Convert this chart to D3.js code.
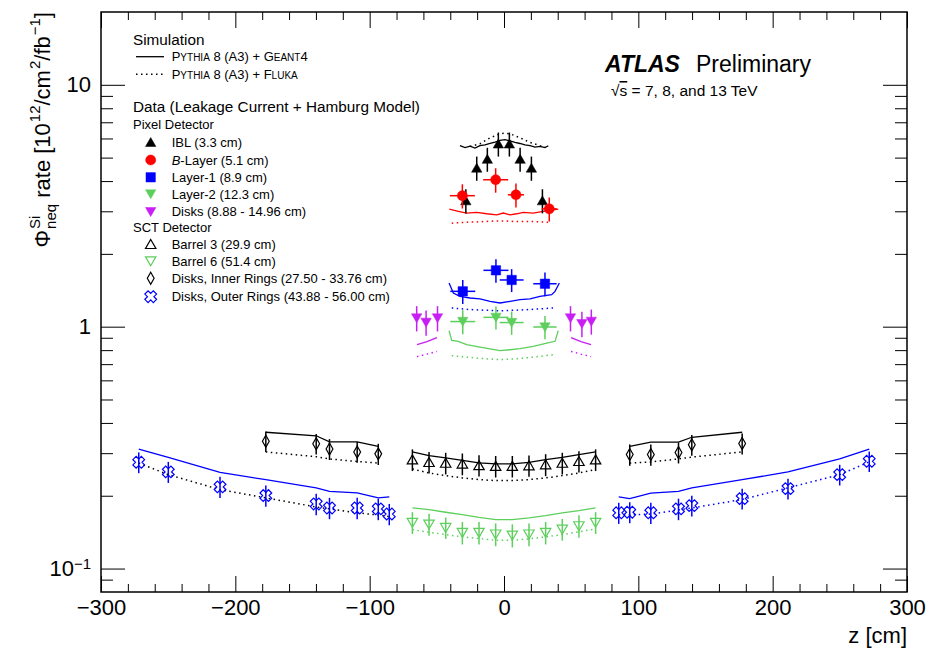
<!DOCTYPE html>
<html>
<head>
<meta charset="utf-8">
<title>Fluence rate vs z</title>
<script src="https://d3js.org/d3.v7.min.js"></script>
<style>
  body { margin: 0; background: #fff; }
  svg { font-family: "Liberation Sans", Arial, Helvetica, sans-serif; }
</style>
</head>
<body>
<div id="chart"></div>
<script>
// ---------- data: z [cm], rate [1e12 / cm2 / fb-1] ----------
// Pixel IBL
var iblZ   = [-28.4, -20.3, -12.4, -4.2, 4.0, 12.0, 20.4, 28.6];
var iblVal = [3.32, 4.53, 4.93, 5.70, 5.70, 4.93, 4.53, 3.32];
var iblErr = [0.38, 0.52, 0.56, 0.65, 0.65, 0.56, 0.52, 0.38];
var iblG4Z = [-32.8, -29.0, -25.3, -21.6, -17.9, -14.1, -10.4, -6.7, -3.0, 0.7, 4.5, 8.2, 11.9, 15.6, 19.4, 23.1, 26.8, 30.5, 33.0];
var iblG4  = [5.60, 5.50, 5.58, 5.48, 5.60, 5.65, 5.72, 5.80, 5.89, 5.93, 5.86, 5.78, 5.72, 5.64, 5.60, 5.53, 5.56, 5.50, 5.60];
var iblFlZ = [-25.3, -17.9, -10.4, -3.0, 0.7, 4.5, 11.9, 19.4, 26.8, 30.5];
var iblFl  = [5.56, 5.70, 6.04, 6.27, 6.31, 6.27, 6.04, 5.78, 5.60, 5.55];

// Pixel B-Layer
var blZ    = [-31.0, -6.2, 8.9, 33.7];
var blZErr = [9.3, 9.3, 6.0, 5.6];
var blVal  = [3.48, 4.05, 3.51, 3.07];
var blErr  = [0.40, 0.47, 0.40, 0.35];
var blG4Z  = [-40.7, -34.0, -27.8, -20.3, -12.9, -5.4, -0.5, 4.5, 9.5, 14.4, 21.8, 29.3, 36.7, 40.4];
var blG4   = [3.06, 3.00, 2.95, 2.97, 2.93, 2.90, 2.95, 2.90, 2.93, 2.97, 2.95, 3.00, 3.04, 3.06];
var blFlZ  = [-38.9, -27.8, -15.4, -3.0, 9.5, 21.8, 33.0];
var blFl   = [2.68, 2.70, 2.72, 2.74, 2.72, 2.72, 2.70];

// Pixel Layer-1
var l1Z    = [-30.7, -6.0, 5.7, 30.5];
var l1ZErr = [9.3, 9.3, 8.9, 8.7];
var l1Val  = [1.40, 1.71, 1.56, 1.505];
var l1Err  = [0.16, 0.19, 0.17, 0.17];
var l1G4Z  = [-40.9, -37.7, -32.8, -25.3, -17.9, -10.4, -3.0, 4.5, 11.9, 19.4, 26.8, 35.5, 38.0, 41.2];
var l1G4   = [1.516, 1.378, 1.334, 1.314, 1.302, 1.272, 1.253, 1.272, 1.293, 1.302, 1.334, 1.356, 1.399, 1.516];
var l1FlZ  = [-38.9, -27.8, -15.4, -3.0, 9.5, 21.8, 36.7];
var l1Fl   = [1.195, 1.18, 1.17, 1.164, 1.17, 1.18, 1.195];

// Pixel Layer-2
var l2Z    = [-30.7, -6.0, 5.7, 30.5];
var l2ZErr = [9.3, 9.3, 8.9, 8.7];
var l2Val  = [1.05, 1.093, 1.04, 0.997];
var l2Err  = [0.12, 0.12, 0.115, 0.11];
var l2G4Z  = [-40.9, -38.9, -34.0, -27.8, -17.9, -10.4, -3.0, 4.5, 11.9, 21.8, 31.8, 38.0, 40.4];
var l2G4   = [0.963, 0.878, 0.870, 0.843, 0.824, 0.809, 0.796, 0.803, 0.811, 0.829, 0.856, 0.870, 0.963];
var l2FlZ  = [-38.9, -27.8, -15.4, -3.0, 9.5, 21.8, 36.7];
var l2Fl   = [0.759, 0.748, 0.738, 0.731, 0.737, 0.748, 0.766];

// Pixel disks
var pdZ    = [-65.0, -58.0, -49.5, 49.5, 58.0, 65.0];
var pdVal  = [1.086, 1.042, 1.086, 1.086, 1.029, 1.052];
var pdErr  = [0.13, 0.125, 0.13, 0.13, 0.125, 0.125];
var pdSimZ = [-64.8, -57.3, -49.9, 49.9, 57.3, 64.8];
var pdG4   = [0.843, 0.867, 0.901, 0.901, 0.867, 0.843];
var pdFl   = [0.752, 0.770, 0.790, 0.790, 0.770, 0.752];

// SCT barrels
var sctBZ   = [-68.2, -55.8, -43.4, -31.0, -18.6, -6.2, 6.2, 18.6, 31.0, 43.4, 55.8, 68.2];
var b3Val   = [0.282, 0.275, 0.273, 0.271, 0.267, 0.265, 0.265, 0.2665, 0.269, 0.273, 0.2776, 0.282];
var b3Err   = [0.029, 0.028, 0.028, 0.028, 0.027, 0.027, 0.027, 0.027, 0.028, 0.028, 0.028, 0.029];
var b3G4    = [0.3035, 0.293, 0.2867, 0.2803, 0.2734, 0.2708, 0.2708, 0.275, 0.282, 0.2884, 0.296, 0.3035];
var b3Fl    = [0.258, 0.2485, 0.2423, 0.237, 0.2332, 0.231, 0.231, 0.2332, 0.237, 0.2423, 0.2485, 0.2565];
var b6Val   = [0.155, 0.1525, 0.1476, 0.1408, 0.1408, 0.1387, 0.1373, 0.1387, 0.1408, 0.1454, 0.150, 0.155];
var b6Err   = [0.016, 0.016, 0.015, 0.015, 0.015, 0.015, 0.015, 0.015, 0.015, 0.015, 0.016, 0.016];
var b6G4    = [0.1782, 0.1753, 0.1709, 0.1671, 0.1629, 0.1594, 0.1594, 0.162, 0.1656, 0.170, 0.1737, 0.1782];
var b6Fl    = [0.1449, 0.1413, 0.1382, 0.1352, 0.133, 0.1309, 0.1309, 0.1327, 0.1352, 0.1382, 0.1419, 0.1459];

// SCT disks, inner rings
var inZ     = [-177.3, -139.8, -129.9, -109.3, -93.6, 93.6, 109.3, 129.9, 139.8, 177.3];
var inVal   = [0.336, 0.328, 0.312, 0.3035, 0.298, 0.296, 0.296, 0.302, 0.325, 0.329];
var inErr   = [0.033, 0.032, 0.031, 0.030, 0.030, 0.030, 0.030, 0.030, 0.032, 0.033];
var inG4    = [0.366, 0.354, 0.334, 0.334, 0.320, 0.320, 0.333, 0.333, 0.349, 0.366];
var inFl    = [0.3035, 0.290, 0.284, 0.277, 0.273, 0.273, 0.276, 0.284, 0.289, 0.3035];

// SCT disks, outer rings
var outZ    = [-271.9, -249.9, -211.4, -177.3, -139.8, -129.9, -109.3, -93.6, -85.4,
               85.4, 93.6, 109.3, 129.9, 139.8, 177.3, 211.4, 249.9, 271.9];
var outVal  = [0.275, 0.251, 0.2176, 0.2003, 0.185, 0.178, 0.178, 0.1765, 0.168,
               0.170, 0.171, 0.170, 0.1765, 0.182, 0.1946, 0.214, 0.2445, 0.2776];
var outErr  = [0.027, 0.025, 0.022, 0.020, 0.019, 0.018, 0.018, 0.018, 0.017,
               0.017, 0.017, 0.017, 0.018, 0.018, 0.019, 0.021, 0.024, 0.027];
var outG4   = [0.312, 0.288, 0.250, 0.233, 0.2156, 0.2087, 0.2056, 0.196, 0.198,
               0.198, 0.1946, 0.205, 0.2087, 0.2156, 0.233, 0.251, 0.284, 0.312];
var outFl   = [0.273, 0.2445, 0.212, 0.196, 0.1797, 0.1765, 0.170, 0.1665, 0.164,
               0.167, 0.167, 0.168, 0.1745, 0.178, 0.193, 0.2156, 0.2445, 0.276];

// axis ticks
var xMajor = [-300, -200, -100, 0, 100, 200, 300];
var xMinor = [-280, -260, -240, -220, -180, -160, -140, -120, -80, -60, -40, -20,
              20, 40, 60, 80, 120, 140, 160, 180, 220, 240, 260, 280];
var yMajor = [0.1, 1, 10];
var yMinor = [0.09, 0.2, 0.3, 0.4, 0.5, 0.6, 0.7, 0.8, 0.9, 2, 3, 4, 5, 6, 7, 8, 9];

// colours
var cRed = "#ff0000", cBlue = "#0000ff", cGreen = "#5dcf5d", cMag = "#c81ef5", cBlack = "#000000";

// ---------- layout ----------
var width = 933, height = 648;
var fL = 101, fR = 907, fT = 12, fB = 592;

var svg = d3.select("#chart").append("svg")
    .attr("width", width)
    .attr("height", height);
svg.append("rect").attr("width", width).attr("height", height).attr("fill", "#fff");

var x = d3.scaleLinear().domain([-300, 300]).range([fL, fR]);
var y = d3.scaleLog().domain([0.08, 20]).range([fB, fT]);

// ---------- markers ----------
function crossX() {
    var a = 2.3, L = 6;
    var pts = [[a,-L],[a,-a],[L,-a],[L,a],[a,a],[a,L],[-a,L],[-a,a],[-L,a],[-L,-a],[-a,-a],[-a,-L]];
    var c = Math.SQRT1_2;
    return "M" + pts.map(function (p) {
        return [(p[0] - p[1]) * c, (p[0] + p[1]) * c].map(function (v) { return v.toFixed(2); }).join(",");
    }).join("L") + "Z";
}
var shapes = {
    triUp: "M0,-4.8L5.2,4.2L-5.2,4.2Z",
    triDown: "M0,4.8L5.2,-4.2L-5.2,-4.2Z",
    circle: d3.symbol(d3.symbolCircle, 80)(),
    square: "M-4.7,-4.7h9.4v9.4h-9.4Z",
    diamond: "M0,-6L3.4,0L0,6L-3.4,0Z",
    crossX: crossX()
};

var plot = svg.append("g");

// two-sided simulation (negative z and positive z drawn apart)
function drawSim(zs, vals, color, dotted, dotColor) {
    var pts = zs.map(function (z, i) { return { z: z, v: vals[i] }; });
    var segs = [pts.filter(function (d) { return d.z < 0; }), pts.filter(function (d) { return d.z >= 0; })];
    var line = d3.line().x(function (d) { return x(d.z); }).y(function (d) { return y(d.v); });
    segs.forEach(function (s, k) {
        if (s.length < 2) return;
        var p = plot.append("path")
            .attr("d", line(s))
            .attr("fill", "none")
            .attr("stroke", dotted && dotColor && k === 0 ? dotColor : color)
            .attr("stroke-width", dotted ? 1.5 : 1.3);
        if (dotted) p.attr("stroke-dasharray", "1.5,3.5");
    });
}
// simulation with one continuous line
function drawSimAll(zs, vals, color, dotted) {
    var line = d3.line().x(function (d, i) { return x(zs[i]); }).y(function (d) { return y(d); });
    var p = plot.append("path").attr("d", line(vals)).attr("fill", "none")
        .attr("stroke", color).attr("stroke-width", dotted ? 1.5 : 1.3);
    if (dotted) p.attr("stroke-dasharray", "1.5,3.5");
}

function drawData(zs, vals, errs, zerrs, color, shape, filled) {
    var d = zs.map(function (z, i) { return { z: z, v: vals[i], e: errs[i], ze: zerrs ? zerrs[i] : 0 }; });
    var g = plot.append("g");
    g.selectAll(".ey").data(d).enter().append("line")
        .attr("x1", function (p) { return x(p.z); }).attr("x2", function (p) { return x(p.z); })
        .attr("y1", function (p) { return y(p.v - p.e); }).attr("y2", function (p) { return y(p.v + p.e); })
        .attr("stroke", color).attr("stroke-width", 1.5);
    if (zerrs) {
        g.selectAll(".ex").data(d).enter().append("line")
            .attr("x1", function (p) { return x(p.z - p.ze); }).attr("x2", function (p) { return x(p.z + p.ze); })
            .attr("y1", function (p) { return y(p.v); }).attr("y2", function (p) { return y(p.v); })
            .attr("stroke", color).attr("stroke-width", 1.5);
    }
    g.selectAll(".m").data(d).enter().append("path")
        .attr("d", shapes[shape])
        .attr("transform", function (p) { return "translate(" + x(p.z) + "," + y(p.v) + ")"; })
        .attr("fill", filled ? color : "none")
        .attr("stroke", color)
        .attr("stroke-width", filled ? 0.5 : 1.2);
}

// simulation curves
drawSimAll(iblG4Z, iblG4, cBlack, false);
drawSimAll(iblFlZ, iblFl, cBlack, true);
drawSimAll(blG4Z, blG4, cRed, false);
drawSimAll(blFlZ, blFl, cRed, true);
drawSimAll(l1G4Z, l1G4, cBlue, false);
drawSimAll(l1FlZ, l1Fl, cBlue, true);
drawSimAll(l2G4Z, l2G4, cGreen, false);
drawSimAll(l2FlZ, l2Fl, cGreen, true);
drawSim(pdSimZ, pdG4, cMag, false);
drawSim(pdSimZ, pdFl, cMag, true);
drawSimAll(sctBZ, b3G4, cBlack, false);
drawSimAll(sctBZ, b3Fl, cBlack, true);
drawSimAll(sctBZ, b6G4, cGreen, false);
drawSimAll(sctBZ, b6Fl, cGreen, true);
drawSim(inZ, inG4, cBlack, false);
drawSim(inZ, inFl, cBlack, true);
drawSim(outZ, outG4, cBlue, false);
drawSim(outZ, outFl, cBlue, true, cBlack);

// data points
drawData(sctBZ, b3Val, b3Err, null, cBlack, "triUp", false);
drawData(sctBZ, b6Val, b6Err, null, cGreen, "triDown", false);
drawData(inZ, inVal, inErr, null, cBlack, "diamond", false);
drawData(outZ, outVal, outErr, null, cBlue, "crossX", false);
drawData(pdZ, pdVal, pdErr, null, cMag, "triDown", true);
drawData(l2Z, l2Val, l2Err, l2ZErr, cGreen, "triDown", true);
drawData(l1Z, l1Val, l1Err, l1ZErr, cBlue, "square", true);
drawData(iblZ, iblVal, iblErr, null, cBlack, "triUp", true);
drawData(blZ, blVal, blErr, blZErr, cRed, "circle", true);

// ---------- axes ----------
function styleAxis(g) {
    g.select(".domain").remove();
    g.attr("font-family", null).attr("font-size", 22);
    g.selectAll(".tick line").attr("stroke", "#000").attr("stroke-width", 1);
    g.selectAll(".tick text").attr("fill", "#000");
}
svg.append("g").attr("transform", "translate(0," + fB + ")")
    .call(d3.axisBottom(x).tickValues(xMajor).tickSize(-16).tickPadding(7).tickFormat(d3.format("d")))
    .call(styleAxis);
svg.append("g").attr("transform", "translate(0," + fB + ")")
    .call(d3.axisBottom(x).tickValues(xMinor).tickSize(-8).tickFormat(""))
    .call(styleAxis);
svg.append("g").attr("transform", "translate(0," + fT + ")")
    .call(d3.axisTop(x).tickValues(xMajor).tickSize(-16).tickFormat(""))
    .call(styleAxis);
svg.append("g").attr("transform", "translate(0," + fT + ")")
    .call(d3.axisTop(x).tickValues(xMinor).tickSize(-8).tickFormat(""))
    .call(styleAxis);

var yAxisG = svg.append("g").attr("transform", "translate(" + fL + ",0)")
    .call(d3.axisLeft(y).tickValues(yMajor).tickSize(-24).tickPadding(10)
        .tickFormat(function (d) { return d === 0.1 ? "10" : String(d); }))
    .call(styleAxis);
yAxisG.selectAll(".tick text").filter(function (d) { return d === 0.1; })
    .append("tspan").attr("dy", "-0.45em").attr("font-size", 15).text("\u22121");
svg.append("g").attr("transform", "translate(" + fL + ",0)")
    .call(d3.axisLeft(y).tickValues(yMinor).tickSize(-12).tickFormat(""))
    .call(styleAxis);
svg.append("g").attr("transform", "translate(" + fR + ",0)")
    .call(d3.axisRight(y).tickValues(yMajor).tickSize(-24).tickFormat(""))
    .call(styleAxis);
svg.append("g").attr("transform", "translate(" + fR + ",0)")
    .call(d3.axisRight(y).tickValues(yMinor).tickSize(-12).tickFormat(""))
    .call(styleAxis);

svg.append("rect")
    .attr("x", fL).attr("y", fT)
    .attr("width", fR - fL).attr("height", fB - fT)
    .attr("fill", "none").attr("stroke", "#000").attr("stroke-width", 1.5);

// x title
svg.append("text").attr("x", fR).attr("y", 643).attr("text-anchor", "end")
    .attr("font-size", 22).text("z [cm]");

// y title: Phi^{Si}_{neq} rate [10^{12}/cm^{2}/fb^{-1}]
var yTitle = svg.append("g").attr("transform", "translate(50," + fT + ") rotate(-90)");
var titleParts = [
    { t: "\u03A6" },
    { sup: "Si", sub: "neq" },
    { t: "\u00A0rate [10" },
    { sup: "12" },
    { t: "/cm" },
    { sup: "2" },
    { t: "/fb" },
    { sup: "\u22121" },
    { t: "]" }
];
var cx = 0;
titleParts.forEach(function (p) {
    var w = 0;
    if (p.t) {
        var t = yTitle.append("text").attr("x", cx).attr("y", 0).attr("font-size", 22).text(p.t);
        w = t.node().getComputedTextLength();
    }
    if (p.sup) {
        var s = yTitle.append("text").attr("x", cx + 1).attr("y", -10).attr("font-size", 15).text(p.sup);
        w = Math.max(w, s.node().getComputedTextLength() + 1);
    }
    if (p.sub) {
        var b = yTitle.append("text").attr("x", cx + 1).attr("y", 6).attr("font-size", 15).text(p.sub);
        w = Math.max(w, b.node().getComputedTextLength() + 1);
    }
    cx += w;
});
yTitle.selectAll("text").attr("x", function () { return +this.getAttribute("x") - cx; });

// ---------- ATLAS label ----------
svg.append("text").attr("x", 605).attr("y", 71.5).attr("font-size", 23)
    .attr("font-weight", "bold").attr("font-style", "italic").text("ATLAS");
svg.append("text").attr("x", 696).attr("y", 71.5).attr("font-size", 23).text("Preliminary");
var sq = svg.append("text").attr("x", 611).attr("y", 96).attr("font-size", 15.5);
sq.append("tspan").text("\u221A");
sq.append("tspan").attr("text-decoration", "overline").text("s");
sq.append("tspan").text(" = 7, 8, and 13 TeV");

// ---------- legend ----------
var leg = svg.append("g");
function legText(xp, yp, size) {
    return leg.append("text").attr("x", xp).attr("y", yp).attr("font-size", size);
}
legText(133, 44.5, 15.3).text("Simulation");

// small-caps generator labels
function smallCaps(yp, parts) {
    var t = legText(171.7, yp, 13);
    parts.forEach(function (p) {
        t.append("tspan").attr("font-size", p[1] ? 10 : 13).text(p[0]);
    });
}
leg.append("line").attr("x1", 136).attr("x2", 164).attr("y1", 56.7).attr("y2", 56.7)
    .attr("stroke", "#000").attr("stroke-width", 1.3);
smallCaps(61.4, [["P"], ["YTHIA", 1], [" 8 (A3) + G"], ["EANT", 1], ["4"]]);
leg.append("line").attr("x1", 136).attr("x2", 164).attr("y1", 74.3).attr("y2", 74.3)
    .attr("stroke", "#000").attr("stroke-width", 1.5).attr("stroke-dasharray", "1.5,3.5");
smallCaps(79, [["P"], ["YTHIA", 1], [" 8 (A3) + F"], ["LUKA", 1]]);

legText(133, 112, 15.3).text("Data (Leakage Current + Hamburg Model)");
legText(133, 129, 13).text("Pixel Detector");
legText(133, 232, 13).text("SCT Detector");

var legendLabels = [
    ["IBL (3.3 cm)", "triUp", cBlack, true, 142.3],
    ["B|-Layer (5.1 cm)", "circle", cRed, true, 160],
    ["Layer-1 (8.9 cm)", "square", cBlue, true, 177.3],
    ["Layer-2 (12.3 cm)", "triDown", cGreen, true, 194],
    ["Disks (8.88 - 14.96 cm)", "triDown", cMag, true, 211.7],
    ["Barrel 3 (29.9 cm)", "triUp", cBlack, false, 244.3],
    ["Barrel 6 (51.4 cm)", "triDown", cGreen, false, 261],
    ["Disks, Inner Rings (27.50 - 33.76 cm)", "diamond", cBlack, false, 278.3],
    ["Disks, Outer Rings (43.88 - 56.00 cm)", "crossX", cBlue, false, 296.7]
];
legendLabels.forEach(function (e) {
    leg.append("path").attr("d", shapes[e[1]])
        .attr("transform", "translate(150.7," + e[4] + ")")
        .attr("fill", e[3] ? e[2] : "none").attr("stroke", e[2])
        .attr("stroke-width", e[3] ? 0.5 : 1.2);
    var t = legText(171.7, e[4] + 4.7, 13);
    var parts = e[0].split("|");
    if (parts.length > 1) {
        t.append("tspan").attr("font-style", "italic").text(parts[0]);
        t.append("tspan").text(parts[1]);
    } else {
        t.text(parts[0]);
    }
});
</script>
</body>
</html>
